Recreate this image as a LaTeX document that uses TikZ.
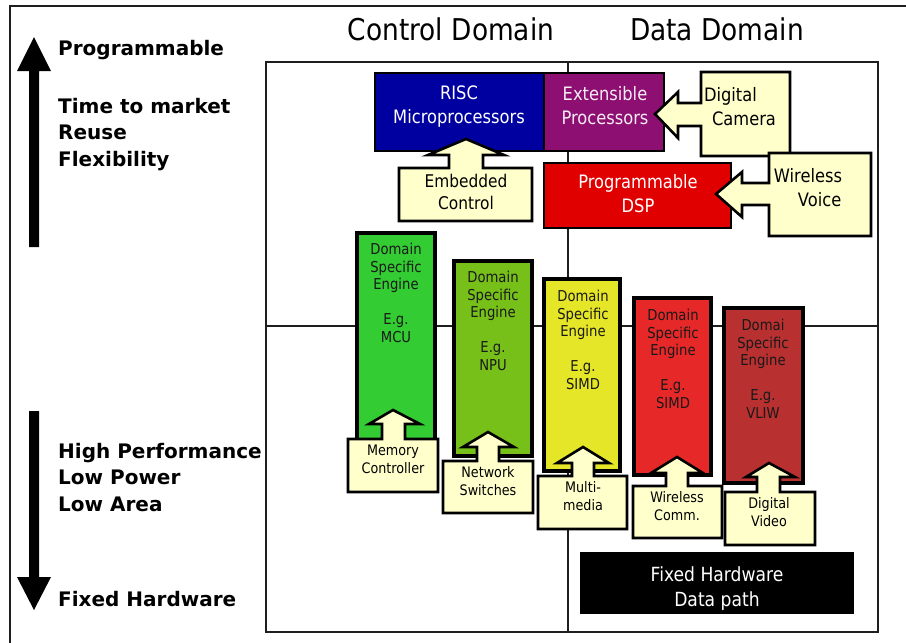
\documentclass[tikz,border=0pt]{standalone}
\usepackage{fontspec}
\setmainfont{DejaVu Sans}
\newfontfamily\nfont{DejaVu Sans}[FakeStretch=0.88]
\definecolor{riscblue}{RGB}{0,0,160}
\definecolor{extpurple}{RGB}{142,15,114}
\definecolor{dspred}{RGB}{224,0,0}
\definecolor{mcugreen}{RGB}{51,204,51}
\definecolor{npugreen}{RGB}{119,192,26}
\definecolor{simdyellow}{RGB}{230,230,40}
\definecolor{simdred}{RGB}{230,40,40}
\definecolor{vliwred}{RGB}{184,48,48}
\definecolor{callfill}{RGB}{255,255,204}
\definecolor{frameline}{RGB}{30,30,30}
\tikzset{
  callout/.style={fill=callfill, draw=black, line width=2.6pt, line join=miter},
  engine/.style={draw=black, line width=4pt},
  corebox/.style={draw=black, line width=2.6pt},
  txt/.style={inner sep=0pt, align=center, anchor=north},
  sidelbl/.style={inner sep=0pt, align=left, anchor=north west,
    font=\bfseries\fontsize{20}{26.5}\selectfont},
  bigtxt/.style={txt, text=white, font=\nfont\fontsize{18.5}{24}\selectfont},
  calltxt/.style={txt, font=\nfont\fontsize{18.5}{24}\selectfont},
  smalltxt/.style={txt, font=\nfont\fontsize{14.5}{18}\selectfont},
  enginetxt/.style={txt, text=black!90, font=\nfont\fontsize{15}{17.5}\selectfont},
  bigarrow/.style={fill=black},
}
\begin{document}
\begin{tikzpicture}[x=1pt,y=-1pt]
\useasboundingbox (0,0) rectangle (906,643);

% outer frame
\draw[frameline, line width=1.6pt] (10,643) -- (10,6) -- (906,6);

% domain headings
\node[txt, font=\nfont\fontsize{30}{36}\selectfont] (ctrl) at (451,18) {Control Domain};
\node[txt, font=\nfont\fontsize{30}{36}\selectfont] (data) at (717,18) {Data Domain};

% inner quadrant frame
\draw[frameline, line width=2pt] (266,62) rectangle (878,632);
\draw[frameline, line width=2pt] (568,62) -- (568,632);
\draw[frameline, line width=2pt] (266,326) -- (878,326);

% vertical scale arrows
\path[bigarrow] (29,247) -- (29,71) -- (17,71) -- (34,37) -- (51,71) -- (39,71) -- (39,247) -- cycle;
\path[bigarrow] (29,411) -- (29,577) -- (17,577) -- (34,610) -- (51,577) -- (39,577) -- (39,411) -- cycle;

% side labels
\node[sidelbl] (prog) at (58,40) {Programmable};
\node[sidelbl] (ttm) at (58,98) {Time to market\\Reuse\\Flexibility};
\node[sidelbl] (perf) at (58,443) {High Performance\\Low Power\\Low Area};
\node[sidelbl] (fixed) at (58,591) {Fixed Hardware};

% programmable cores
\path[corebox, fill=riscblue] (375,73) rectangle (544,151);
\node[bigtxt] (risc) at (459,86) {RISC\\Microprocessors};
\path[corebox, fill=extpurple] (544,73) rectangle (664,151);
\node[bigtxt, text=white!92!extpurple] (ext) at (605,86) {Extensible\\Processors};
\path[corebox, fill=dspred] (544,163) rectangle (731,228);
\node[bigtxt] (dsp) at (638,174) {Programmable\\DSP};

% callouts feeding the programmable cores
\path[callout] (790,72) -- (701,72) -- (701,103) -- (678,103) -- (678,92) -- (655,114)
  -- (678,138) -- (678,126) -- (701,126) -- (701,156) -- (790,156) -- cycle;
\node[calltxt, align=left] (cam) at (740,87) {Digital\\\hspace*{8pt}Camera};
\path[callout] (871,153) -- (769,153) -- (769,183) -- (742,183) -- (742,172) -- (716,194)
  -- (742,217) -- (742,205) -- (769,205) -- (769,236) -- (871,236) -- cycle;
\node[calltxt, align=left] (voice) at (808,168) {Wireless\\\hspace*{24pt}Voice};
\path[callout] (399,221) -- (399,168) -- (449,168) -- (449,155) -- (428,155) -- (466,139)
  -- (504,155) -- (483,155) -- (483,168) -- (532,168) -- (532,221) -- cycle;
\node[calltxt, font=\nfont\fontsize{17.5}{22}\selectfont] (emb) at (466,174) {Embedded\\Control};

% domain specific engines
\path[engine, fill=mcugreen] (357,233) rectangle (435,440);
\node[enginetxt] (mcu) at (396,243) {Domain\\Specific\\Engine\\[17.5pt]E.g.\\MCU};
\path[engine, fill=npugreen] (454,261) rectangle (532,456);
\node[enginetxt] (npu) at (493,271) {Domain\\Specific\\Engine\\[17.5pt]E.g.\\NPU};
\path[engine, fill=simdyellow] (544,279) rectangle (620,471);
\node[enginetxt] (simd) at (583,290) {Domain\\Specific\\Engine\\[17.5pt]E.g.\\SIMD};
\path[engine, fill=simdred] (634,298) rectangle (711,475);
\node[enginetxt] (simdr) at (673,309) {Domain\\Specific\\Engine\\[17.5pt]E.g.\\SIMD};
\path[engine, fill=vliwred] (724,308) rectangle (803,483);
\node[enginetxt] (vliw) at (763,319) {Domai\\Specific\\Engine\\[17.5pt]E.g.\\VLIW};

% application callouts feeding the engines
\path[callout] (348,492) -- (348,439) -- (382,439) -- (382,424) -- (369,424) -- (393,410)
  -- (420,424) -- (405,424) -- (405,439) -- (438,439) -- (438,492) -- cycle;
\node[smalltxt] (mem) at (393,445) {Memory\\Controller};
\path[callout] (443,513) -- (443,461) -- (477,461) -- (477,447) -- (463,447) -- (488,432)
  -- (514,447) -- (499,447) -- (499,461) -- (533,461) -- (533,513) -- cycle;
\node[smalltxt] (net) at (488,466) {Network\\Switches};
\path[callout] (538,529) -- (538,476) -- (572,476) -- (572,463) -- (557,463) -- (583,447)
  -- (609,463) -- (594,463) -- (594,476) -- (627,476) -- (627,529) -- cycle;
\node[smalltxt] (mm) at (583,481) {Multi-\\media};
\path[callout] (633,538) -- (633,486) -- (666,486) -- (666,473) -- (651,473) -- (677,457)
  -- (703,473) -- (688,473) -- (688,486) -- (722,486) -- (722,538) -- cycle;
\node[smalltxt] (wcomm) at (677,491) {Wireless\\Comm.};
\path[callout] (725,545) -- (725,492) -- (757,492) -- (757,477) -- (746,477) -- (769,463)
  -- (795,477) -- (780,477) -- (780,492) -- (815,492) -- (815,545) -- cycle;
\node[smalltxt] (dvid) at (769,497) {Digital\\Video};

% fixed hardware block
\path[fill=black] (580,552) rectangle (854,614);
\node[bigtxt, font=\nfont\fontsize{19.5}{25}\selectfont] (fhw) at (717,566) {Fixed Hardware\\Data path};
\end{tikzpicture}
\end{document}
